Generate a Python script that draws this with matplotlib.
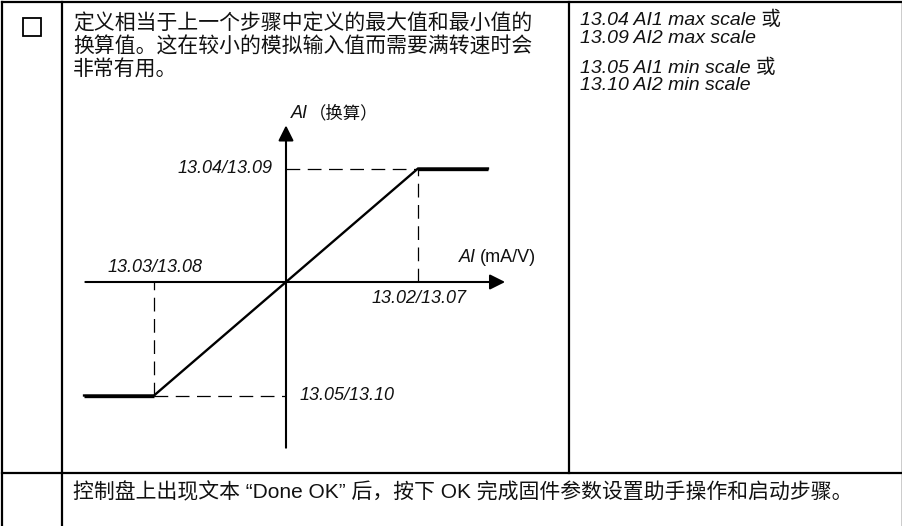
import matplotlib
matplotlib.use('Agg')
import matplotlib.pyplot as plt
from matplotlib.patches import Rectangle

W, H = 903, 526
LAT_CJK = ['Liberation Sans', 'Noto Sans CJK SC']

# scaling curve: analog input vs scaled value (knees at min/max scale)
ai_in = [-1.53, -1.0, 1.0, 1.53]
ai_out = [-1.0, -1.0, 1.0, 1.0]
axis_x = [-1.52, 1.66]   # extent of the input axis
axis_y = [-1.46, 1.38]   # extent of the scaled axis

lbl_in_min = '13.03/13.08'
lbl_in_max = '13.02/13.07'
lbl_out_max = '13.04/13.09'
lbl_out_min = '13.05/13.10'

body_lines = ['定义相当于上一个步骤中定义的最大值和最小值的',
              '换算值。这在较小的模拟输入值而需要满转速时会',
              '非常有用。']
param_lines = ['13.04 AI1 max scale 或', '13.09 AI2 max scale',
               '13.05 AI1 min scale 或', '13.10 AI2 min scale']
param_y = [20, 38.5, 67.5, 86]
footer = '控制盘上出现文本 “Done OK” 后，按下 OK 完成固件参数设置助手操作和启动步骤。'

# table grid (pixels)
col_x = [2, 62.5, 569, 902]
row_y = [2, 473, 526]

fig = plt.figure(figsize=(W / 100, H / 100), dpi=100)
bg = fig.add_axes([0, 0, 1, 1])
bg.set_xlim(0, W)
bg.set_ylim(H, 0)
bg.axis('off')

lw_tab = 1.6
bg.plot([col_x[0], col_x[3]], [row_y[0], row_y[0]], color='black', lw=lw_tab)
bg.plot([col_x[0], col_x[3]], [row_y[1], row_y[1]], color='black', lw=lw_tab)
bg.plot([col_x[0], col_x[0]], [row_y[0], row_y[2]], color='black', lw=lw_tab)
bg.plot([col_x[1], col_x[1]], [row_y[0], row_y[2]], color='black', lw=lw_tab)
bg.plot([col_x[2], col_x[2]], [row_y[0], row_y[1]], color='black', lw=lw_tab)
bg.plot([col_x[3], col_x[3]], [row_y[0], row_y[2]], color='black', lw=1.0)

bg.add_patch(Rectangle((23, 18), 18, 18, fill=False, lw=1.3, ec='black'))

for i, line in enumerate(body_lines):
    bg.text(73, 24 + 23 * i, line, family=LAT_CJK, fontsize=15,
            ha='left', va='center', color='#111111')

for y, line in zip(param_y, param_lines):
    bg.text(580, y, line, family=LAT_CJK, style='italic', fontsize=14,
            ha='left', va='center', color='#111111')

bg.text(73, 492, footer, family=LAT_CJK, fontsize=15, ha='left',
        va='center', color='#111111')

# diagram axes: origin at px (286, 282), 132 px per input unit, 113.5 px per output unit
ox, oy, sx, sy = 286, 282, 132, 113.5
left, right, top, bottom = 62, 569, 100, 473
ax = fig.add_axes([left / W, (H - bottom) / H, (right - left) / W, (bottom - top) / H])
ax.set_xlim((left - ox) / sx, (right - ox) / sx)
ax.set_ylim((oy - bottom) / sy, (oy - top) / sy)
ax.patch.set_alpha(0)
ax.axis('off')

arrow = dict(arrowstyle='-|>', color='black', lw=1.5, mutation_scale=23,
             shrinkA=0, shrinkB=0)
ax.annotate('', xy=(axis_x[1], 0), xytext=(axis_x[0], 0), arrowprops=arrow)
ax.annotate('', xy=(0, axis_y[1]), xytext=(0, axis_y[0]), arrowprops=arrow)

# dashed guides to the knees
dash = dict(color='black', lw=0.9, dashes=(11, 6))
ax.plot([0, ai_in[2]], [ai_out[2], ai_out[2]], **dash)
ax.plot([ai_in[2], ai_in[2]], [0, ai_out[2]], **dash)
ax.plot([ai_in[1], 0], [ai_out[1], ai_out[1]], **dash)
ax.plot([ai_in[1], ai_in[1]], [ai_out[1], 0], **dash)

ax.plot(ai_in, ai_out, color='black', lw=1.7, solid_joinstyle='miter')
ax.plot(ai_in[:2], ai_out[:2], color='black', lw=2.4, solid_capstyle='butt')
ax.plot(ai_in[2:], ai_out[2:], color='black', lw=2.4, solid_capstyle='butt')

lab = dict(textcoords='offset points', style='italic', fontsize=13,
           family=LAT_CJK, va='center', color='#111111')
ax.annotate(lbl_out_max, xy=(0, ai_out[2]), xytext=(-9.4, 0), ha='right', **lab)
ax.annotate(lbl_out_min, xy=(0, ai_out[1]), xytext=(9.4, 0), ha='left', **lab)
ax.annotate(lbl_in_min, xy=(ai_in[1], 0), xytext=(0.7, 10.8), ha='center', **lab)
ax.annotate(lbl_in_max, xy=(ai_in[2], 0), xytext=(1.0, -12.2), ha='center', **lab)

ax.annotate('AI', xy=(axis_x[1], 0), xytext=(-20.9, 17.3), ha='right', **lab)
ax.annotate('(mA/V)', xy=(axis_x[1], 0), xytext=(-18.0, 17.3), ha='left',
            textcoords='offset points', fontsize=13, family=LAT_CJK,
            va='center', color='#111111')
ax.annotate('AI', xy=(0, axis_y[1]), xytext=(15.8, 8.6), ha='right', **lab)
ax.annotate('（换算）', xy=(0, axis_y[1]), xytext=(16.4, 8.6), ha='left',
            textcoords='offset points', fontsize=12.5, family=LAT_CJK,
            va='center', color='#111111')

fig.savefig('out.png', dpi=100)
